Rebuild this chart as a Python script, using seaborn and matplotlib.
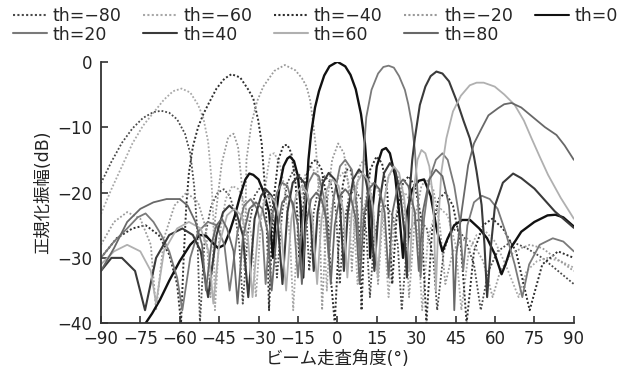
import matplotlib
matplotlib.use("Agg")
import matplotlib.pyplot as plt
import seaborn as sns
import pandas as pd

# steering angle labels (legend)
labels = ['th=\u221280', 'th=\u221260', 'th=\u221240', 'th=\u221220', 'th=0',
          'th=20', 'th=40', 'th=60', 'th=80']

# (scan angle [deg], normalized amplitude [dB])
th_m80 = [(-90, -18.6), (-86, -15.3), (-82, -12.4), (-78, -10.2), (-74, -8.6), (-70, -7.7), (-67, -7.5),
          (-64, -7.8), (-61, -8.8), (-58, -11), (-56, -14), (-54.5, -19), (-53.3, -26), (-52.3, -40),
          (-50.5, -27), (-48, -22), (-45.5, -20), (-43.2, -19.5), (-41, -20.5), (-39, -23), (-37.3, -28),
          (-36, -37), (-34, -26), (-31.5, -20.5), (-29, -19), (-26.5, -20), (-24.5, -24), (-23, -33),
          (-21, -23), (-19, -18.5), (-16.6, -16.5), (-14, -17.5), (-12, -22), (-10.7, -32), (-9, -23),
          (-7, -19), (-4.9, -17.5), (-2.5, -18.5), (-0.5, -23), (0.9, -34), (2.5, -25), (4.5, -20.5),
          (6.6, -19.5), (9, -21), (11, -26), (12.4, -36), (14, -27), (16, -23), (18.4, -22), (21, -23.5),
          (23, -28), (24.5, -38), (26.5, -28), (28.5, -25), (31, -24), (34, -25.5), (36.5, -30), (38, -38),
          (40.5, -29), (43, -26), (45.6, -25.5), (48.5, -27), (52, -31), (54.6, -38), (57.5, -32),
          (61, -29), (66.2, -27.5), (72, -28.5), (78, -30), (84, -32), (90, -34)]

th_m60 = [(-90, -23.3), (-86, -19.5), (-82, -16), (-78, -12.5), (-74, -9.8), (-70, -7.8), (-66, -5.8),
          (-62.5, -4.5), (-59.3, -4.1), (-56, -4.7), (-53, -6.6), (-51, -8.6), (-49.2, -12.2), (-48, -17.5),
          (-47.2, -24), (-46.6, -38), (-45, -27), (-42.5, -21), (-40, -19), (-37.5, -19.5), (-35, -22),
          (-32.5, -27), (-31, -36), (-29, -24), (-26.5, -16.5), (-25.5, -14.2), (-24, -14), (-22, -15.5),
          (-20, -19.5), (-18, -27), (-16.8, -38), (-15, -25), (-12.5, -17.5), (-10, -16), (-7.5, -17.5),
          (-5.5, -22.5), (-4, -35), (-2.5, -23), (0, -18), (2, -17), (4, -18), (6, -22.5), (7.7, -34),
          (9.5, -24), (11.5, -19.5), (13.5, -18.5), (15.5, -19.5), (17.5, -24), (19.5, -36), (21.5, -25),
          (23.5, -21), (25.7, -20), (28, -21.5), (30.5, -26), (32.3, -38), (34.5, -27), (37, -23.5),
          (39.3, -22.5), (42, -23.5), (45, -28), (47.2, -38), (50, -29), (53, -26.5), (56.5, -26),
          (60, -27.5), (64, -31), (69, -36), (72, -32), (76, -30.5), (80, -30), (85, -30.5), (90, -31.5)]

th_m40 = [(-90, -30), (-84, -27), (-78, -25.5), (-73, -25), (-68, -26.5), (-64, -29.5), (-61, -34),
          (-59.5, -40), (-58.5, -30), (-57.5, -22), (-56.5, -17), (-55, -13), (-53, -10), (-51, -8),
          (-49, -6.4), (-46, -4.1), (-43, -2.6), (-40.3, -1.9), (-37, -2.4), (-34, -4.2), (-32, -5.6),
          (-30.1, -9), (-28.8, -12.5), (-27.6, -19), (-26.6, -28), (-26, -38), (-24.5, -22), (-22.5, -15),
          (-20.5, -12.8), (-19, -12.7), (-17.5, -14), (-15.8, -19), (-14.5, -30), (-13.5, -24),
          (-11.5, -17), (-9.5, -15.3), (-8, -15), (-6, -16.5), (-4, -21), (-2.5, -33), (-1, -40),
          (0.5, -28), (2, -19), (3.3, -16.5), (5, -16.5), (7, -20), (8.5, -27), (9.2, -38), (10.5, -24),
          (12.5, -16.5), (14.9, -14.5), (17, -15.5), (19, -20), (20.9, -34), (22.5, -24), (25, -18.5),
          (27.2, -17.5), (29.5, -19), (32, -24), (33.9, -40), (36, -26), (38.5, -21), (41.1, -20),
          (44, -22), (47, -28), (49.2, -40), (52, -29), (55.5, -25), (59, -24), (63, -25.5), (68, -29),
          (73.2, -38), (78, -31), (84, -29), (90, -30)]

th_m20 = [(-90, -28), (-85, -24.5), (-80, -23), (-75, -24), (-71, -28), (-69, -38), (-66, -27),
          (-62, -22), (-57.4, -20), (-53, -21.5), (-50, -25.5), (-48.3, -36), (-46.5, -24), (-44, -15.5),
          (-41.5, -11.5), (-39.5, -11), (-37.8, -13), (-36.3, -19), (-35.3, -32), (-34.6, -15),
          (-32.7, -9.4), (-30.5, -6), (-28.2, -3.8), (-24, -1.4), (-20, -0.5), (-16, -1.3), (-13.5, -2.5),
          (-11.7, -3.8), (-10.3, -6), (-9.2, -9.4), (-8.2, -13), (-7.3, -18), (-6.5, -28), (-5.8, -38),
          (-4, -22), (-2, -15), (0.3, -12.5), (2.5, -14), (4.2, -19), (5.5, -32), (7, -21), (8.5, -16),
          (10, -15), (11.5, -16.5), (13.5, -22), (15.5, -34), (17.5, -22), (19.5, -17.5), (21, -16.5),
          (23, -17.5), (25.5, -22), (27.3, -36), (29.5, -24), (32, -19), (33.9, -18), (36.5, -19.5),
          (39, -25), (41.1, -34), (44, -29), (47, -27.5), (49.3, -27), (52, -28), (55.5, -30.5),
          (59.1, -36), (62, -32), (66, -29.5), (70, -28.5), (73.3, -28), (78, -28.5), (83, -30), (90, -32)]

th_0 = [(-75, -41), (-73, -40), (-70.5, -38.5), (-67.5, -36.4), (-64, -33.5), (-60, -30.5), (-56, -28),
        (-52.3, -26.5), (-50, -26.6), (-48, -27.5), (-45.4, -28.5), (-43, -28), (-41, -26), (-39, -23.5),
        (-37, -20.5), (-35, -18), (-33.5, -17.1), (-32, -17.3), (-30, -18), (-28, -20), (-26, -23),
        (-24.5, -30), (-23.5, -24), (-22, -19), (-20.5, -16), (-19, -14.8), (-18, -14.5), (-16.5, -15.2),
        (-15, -17.5), (-14, -22), (-13, -33), (-12, -22), (-11, -15), (-10, -11), (-8.5, -7), (-7, -4.5),
        (-5, -2.1), (-3, -0.7), (0, 0), (3, -0.7), (5, -2), (7, -4.2), (9, -8), (10.5, -12.5),
        (11.5, -18), (12.5, -30), (13.5, -22), (15, -16), (17, -13.5), (18.5, -13.2), (20, -14),
        (22, -17.5), (23.5, -23), (25, -30), (26.5, -23), (28.5, -19.5), (31, -18.2), (33, -18),
        (35.5, -20.5), (38, -26), (40, -29), (42, -27), (44.5, -25), (47.5, -24.2), (50.5, -24.2),
        (54, -25.5), (57, -27), (60, -29.5), (62.5, -32.5), (64, -31), (66, -28.5), (70, -26),
        (75, -24.5), (80, -23.5), (83, -23.4), (86, -23.8), (90, -25.2)]

th_20 = [(-90, -30), (-85, -27.5), (-80, -25.5), (-76, -23.8), (-73, -23.2), (-70, -24.5), (-67, -26.5),
         (-64, -29), (-61, -33), (-59, -38), (-56, -30), (-53, -26), (-49.3, -24.5), (-46, -25),
         (-43, -28), (-41, -35), (-38, -26), (-35.5, -22), (-33, -21), (-30.5, -22.5), (-28.5, -26),
         (-27.3, -34), (-25.5, -25), (-23, -20), (-21, -18.5), (-19, -19), (-17, -22), (-15, -33),
         (-13, -23), (-11, -18.5), (-9, -17), (-7, -17.5), (-5, -21), (-3.3, -30), (-1.5, -21), (1, -16),
         (3, -15), (5.5, -16.5), (7.3, -22), (8.5, -30), (9.5, -20), (10.2, -13), (11, -8.5), (13, -4.3),
         (15.5, -1.8), (17.5, -0.8), (19.5, -0.6), (21.5, -0.9), (23.5, -2.2), (25.7, -4.3), (27, -6.5),
         (28.3, -9.4), (29.5, -13.5), (30.7, -21), (31.7, -33), (33, -24), (35, -18), (37.5, -15),
         (40, -14), (42, -15), (44.5, -19), (46.5, -24), (47.9, -32), (49.5, -25), (52, -21.5),
         (55, -20.5), (58, -21), (61, -22.5), (64, -26), (67.5, -31), (70.4, -36), (73, -31), (77, -28),
         (82, -27), (86, -27.5), (90, -29)]

th_40 = [(-90, -32), (-86, -30), (-82, -30), (-77, -32), (-73.2, -38), (-69, -30), (-64, -26.5),
         (-59, -25.5), (-55, -26.5), (-52, -29), (-49.2, -36), (-46, -26.5), (-43.5, -23), (-41.1, -22),
         (-38.5, -23), (-36, -26.5), (-33.9, -36), (-31.5, -24), (-29, -20.5), (-27.2, -19.5),
         (-25, -20.5), (-22.8, -24), (-20.9, -34), (-19, -23), (-17, -18.5), (-14.9, -17.5),
         (-12.5, -18.5), (-10.5, -22), (-9, -32), (-7.5, -23), (-5.5, -18.5), (-3.3, -17), (-1, -18),
         (1, -22), (2.5, -32), (4, -23), (6, -18), (8.2, -16.5), (10.5, -17.5), (12.5, -21.5),
         (14.1, -32), (15.8, -22), (17.8, -17), (20, -15.5), (22, -16.5), (24, -20.5), (25.5, -26),
         (26.5, -33), (27.5, -20), (28.5, -15), (29.5, -11.7), (31.4, -6.6), (33.5, -3.8), (35.5, -2.2),
         (37.7, -1.5), (40, -1.8), (42.5, -3), (46, -6.6), (48, -9), (50.4, -11.7), (52, -14.5),
         (53, -16.8), (54.9, -21.9), (56, -28), (57, -36), (58.5, -28), (60, -22), (63, -18.5),
         (66.9, -17.1), (70, -17.8), (75, -19.4), (82.8, -22.9), (90, -25.4)]

th_60 = [(-90, -31), (-85, -29), (-80, -28), (-75, -29), (-71, -32), (-69, -37), (-66, -29),
         (-61, -25.5), (-56.5, -24.5), (-52, -25.5), (-49, -29), (-47.2, -37), (-45, -28), (-42, -23.5),
         (-39.3, -22.5), (-36.5, -23.5), (-34, -27), (-32.3, -36), (-30, -25), (-27.5, -21),
         (-25.7, -20.5), (-23.5, -21.5), (-21.5, -25), (-19.5, -35), (-17.5, -24), (-15.5, -20),
         (-13.5, -19), (-11.5, -20), (-9.5, -24), (-7.7, -34), (-6, -24), (-4, -19.5), (-1.9, -18),
         (0.5, -19), (2.3, -23), (3.8, -33), (5.5, -23), (7.5, -18.5), (9.6, -17), (11.5, -18),
         (13.5, -22), (15.4, -33), (17, -23), (19.5, -17.5), (21.5, -16), (23.5, -17), (25.5, -21),
         (27.5, -32), (29, -20), (30.5, -15), (32, -13.5), (33.5, -14), (35, -16), (36.5, -21),
         (37.5, -35), (38.5, -24), (39.6, -16.8), (41.5, -11.7), (44, -7.6), (47, -5.2), (50.4, -3.6),
         (53, -3.2), (55.7, -3.2), (59.9, -3.8), (63.5, -5), (67.5, -6.6), (71, -9), (73.9, -11.7),
         (77, -14.5), (80.2, -17.3), (85, -20.8), (90, -24)]

th_80 = [(-90, -32), (-85, -28.5), (-80, -24.5), (-75, -22.5), (-70, -21.5), (-65, -21), (-60, -21),
         (-57, -22), (-54, -24.5), (-51.5, -28), (-50, -35), (-48, -28), (-46, -25), (-44, -24),
         (-42, -25.5), (-39.5, -29), (-38, -37), (-36, -27), (-33.5, -22.5), (-31, -21.5), (-28.5, -22.5),
         (-26.5, -26), (-25, -35), (-23, -26), (-21, -21.5), (-19, -20.5), (-17, -21.5), (-15, -25),
         (-13.5, -34), (-12, -25), (-10, -21), (-8, -20), (-6, -21), (-4, -24.5), (-2.5, -34), (-1, -25),
         (1, -20.5), (3, -19.5), (5, -20.5), (7, -24), (8.5, -34), (10, -24), (12, -19.5), (14, -18.5),
         (16, -19.5), (18, -23), (19.5, -33), (21, -23), (23, -19), (25, -18), (27, -19), (29.5, -23),
         (31, -32), (32.5, -23), (35, -18), (37.5, -16.5), (40, -17.5), (42.5, -22), (44, -30),
         (44.5, -38), (45.3, -29.6), (47.3, -22.9), (49.8, -15.8), (52, -12.5), (54.9, -10.2),
         (57.5, -8.2), (61.2, -7.1), (63.5, -6.5), (66.3, -6.3), (70, -7), (75.1, -8.7), (79, -10),
         (83.4, -11.2), (86.5, -12.8), (90, -15)]

curves = [th_m80, th_m60, th_m40, th_m20, th_0, th_20, th_40, th_60, th_80]

rows = []
for lab, pts in zip(labels, curves):
    for a, v in pts:
        rows.append({'angle': a, 'amp': v, 'th': lab})
df = pd.DataFrame(rows)

palette = dict(zip(labels, ['#4a4a4a', '#a8a8a8', '#2e2e2e', '#9a9a9a', '#111111',
                            '#7a7a7a', '#3a3a3a', '#b0b0b0', '#686868']))
dashes = dict(zip(labels, [(1, 1.1)] * 4 + [''] * 5))
widths = dict(zip(labels, [1.3, 1.3, 1.4, 1.3, 1.7, 1.3, 1.5, 1.3, 1.3]))

sns.set_style('ticks')
plt.rcParams['font.family'] = ['DejaVu Sans', 'Noto Sans CJK JP']

fig = plt.figure(figsize=(6.19, 3.72), dpi=100)
ax = fig.add_axes([0.163, 0.131, 0.764, 0.703])

sns.lineplot(data=df, x='angle', y='amp', hue='th', style='th', hue_order=labels, style_order=labels,
             palette=palette, dashes=dashes, estimator=None, sort=False, ax=ax, legend=True)
for lab, line in zip(labels, ax.lines):
    line.set_linewidth(widths[lab])

ax.set_xlim(-90, 90)
ax.set_ylim(-40, 0)
ax.set_xticks(range(-90, 91, 15))
ax.set_yticks(range(-40, 1, 10))
ax.tick_params(direction='in', length=5, width=1.1, labelsize=12, colors='#222222')
ax.tick_params(axis='x', pad=5)
ax.tick_params(axis='y', pad=6)
for s in ['top', 'right']:
    ax.spines[s].set_visible(False)
for s in ['left', 'bottom']:
    ax.spines[s].set_linewidth(1.3)
    ax.spines[s].set_color('#333333')
ax.set_xlabel('ビーム走査角度(°)', fontsize=12.5, labelpad=1, color='#222222')
ax.set_ylabel('正規化振幅(dB)', fontsize=12.5, labelpad=4, color='#222222')

handles, labs = ax.get_legend_handles_labels()
ax.get_legend().remove()
order = [0, 5, 1, 6, 2, 7, 3, 8, 4]
fig.legend([handles[i] for i in order], [labs[i] for i in order], ncol=5, loc='upper left',
           bbox_to_anchor=(0.004, 1.01), frameon=False, fontsize=12.5, handlelength=1.95,
           handletextpad=0.35, columnspacing=1.25, labelspacing=0.05, borderaxespad=0.2)

fig.savefig('out.png', dpi=100)
